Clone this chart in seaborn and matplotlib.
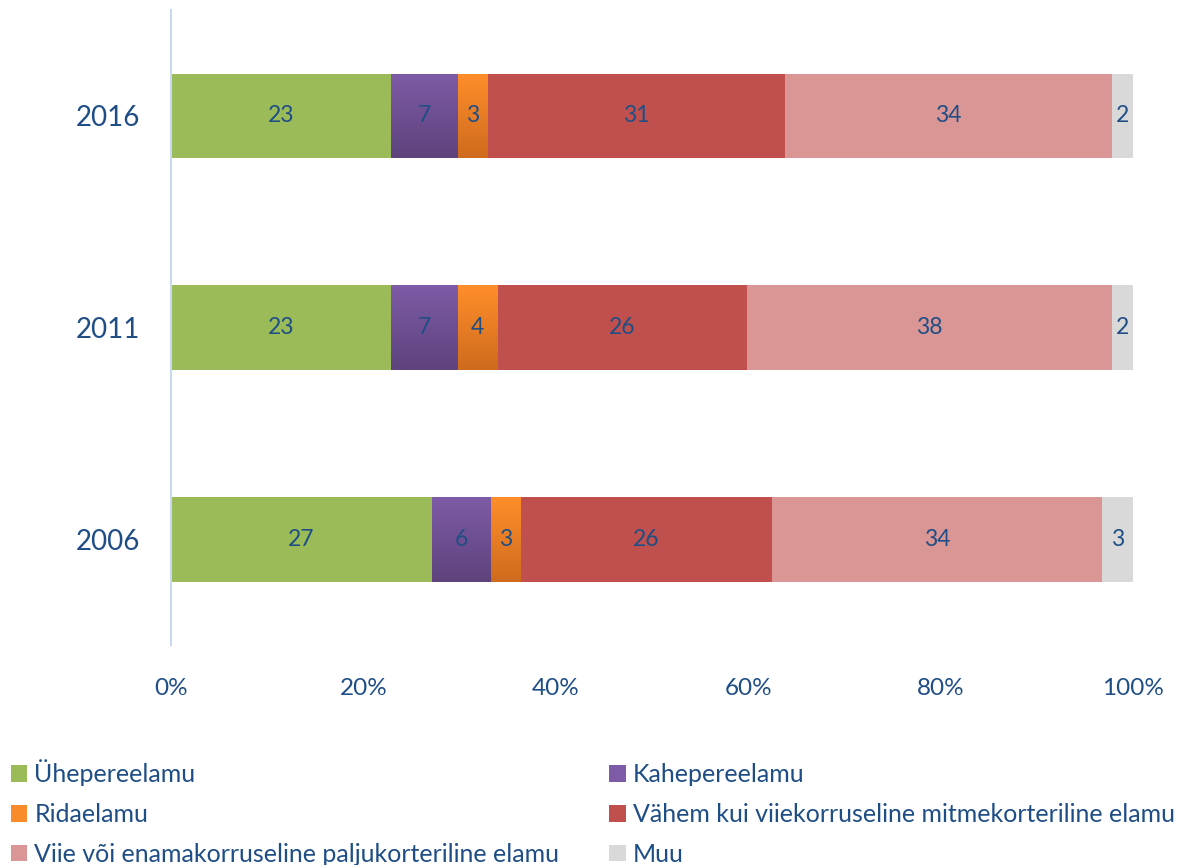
import numpy as np
import pandas as pd
import seaborn as sns
import matplotlib.pyplot as plt
from matplotlib.patches import Patch
from matplotlib.colors import LinearSegmentedColormap

# Andmed (protsendid, loetud jooniselt)
aastad = ["2016", "2011", "2006"]
kategooriad = [
    "Ühepereelamu",
    "Kahepereelamu",
    "Ridaelamu",
    "Vähem kui viiekorruseline mitmekorteriline elamu",
    "Viie või enamakorruseline paljukorteriline elamu",
    "Muu",
]
uhepere = [22.9, 22.9, 27.1]
kahepere = [6.9, 6.9, 6.1]
rida = [3.1, 4.1, 3.1]
vahem_viie = [30.9, 26.0, 26.2]
viie_enam = [34.0, 37.9, 34.3]
muu = [2.2, 2.2, 3.2]
sildid = [
    [23, 7, 3, 31, 34, 2],
    [23, 7, 4, 26, 38, 2],
    [27, 6, 3, 26, 34, 3],
]
xtikid = [0, 20, 40, 60, 80, 100]
xtiksildid = ["0%", "20%", "40%", "60%", "80%", "100%"]

varvid = ["#9BBB59", "#7E5BA6", "#F98B2B", "#C0504D", "#D99694", "#D9D9D9"]
gradient = {1: ("#7E5BA6", "#5E437D"), 2: ("#FF8E2A", "#CF6B1E")}
tekst = "#1F4E86"

sns.set_theme(style="white")
plt.rcParams["font.family"] = ["Lato", "DejaVu Sans"]

vaartused = np.array([uhepere, kahepere, rida, vahem_viie, viie_enam, muu])
kum = np.cumsum(vaartused, axis=0)

fig = plt.figure(figsize=(11.78, 8.65), dpi=100)
ax = fig.add_axes([0.1452, 0.2543, 0.8166, 0.7341])

# kuhjatud tulbad: joonistame kumulatiivsed summad tagant ettepoole
for i in range(len(kategooriad) - 1, -1, -1):
    df = pd.DataFrame({"aasta": aastad, "x": kum[i]})
    sns.barplot(data=df, x="x", y="aasta", order=aastad, orient="h",
                color=varvid[i], saturation=1, width=0.4, ax=ax,
                linewidth=0, errorbar=None)
    if i in gradient:
        cmap = LinearSegmentedColormap.from_list("g", gradient[i])
        for p in ax.patches[-len(aastad):]:
            x0, y0 = p.get_x(), p.get_y()
            w, h = p.get_width(), p.get_height()
            im = ax.imshow(np.linspace(0, 1, 64).reshape(-1, 1), cmap=cmap,
                           extent=[x0, x0 + w, y0 + h, y0], aspect="auto",
                           zorder=p.get_zorder(), interpolation="bilinear")
            im.set_clip_path(p)

# siltide lisamine
for r in range(len(aastad)):
    for i in range(len(kategooriad)):
        algus = kum[i][r] - vaartused[i][r]
        ax.text(algus + vaartused[i][r] / 2, r, str(sildid[r][i]),
                ha="center", va="center", fontsize=16.5, color=tekst, zorder=10)

ax.set_xlim(0, 100)
ax.set_ylim(2.5, -0.5)
ax.set_xticks(xtikid)
ax.set_xticklabels(xtiksildid)
ax.set_xlabel("")
ax.set_ylabel("")
ax.tick_params(axis="x", length=0, pad=24, labelsize=17.5, labelcolor=tekst)
ax.tick_params(axis="y", length=0, pad=22, labelsize=20, labelcolor=tekst)
for s in ["top", "right", "bottom"]:
    ax.spines[s].set_visible(False)
ax.spines["left"].set_color("#C9D9EE")
ax.spines["left"].set_linewidth(1.5)

# legend: rida-realt järjestus kahes veerus
jarjekord = [0, 2, 4, 1, 3, 5]
kasitsejad = [Patch(facecolor=varvid[j], edgecolor="none", label=kategooriad[j])
              for j in jarjekord]
fig.legend(handles=kasitsejad, loc="upper left", bbox_to_anchor=(0.009, 0.122),
           bbox_transform=fig.transFigure, ncol=2, frameon=False, fontsize=18,
           labelcolor=tekst, handlelength=0.65, handleheight=0.65, handletextpad=0.3,
           labelspacing=0.67, columnspacing=2.0, borderaxespad=0, borderpad=0)

fig.savefig("out.png", dpi=100)
